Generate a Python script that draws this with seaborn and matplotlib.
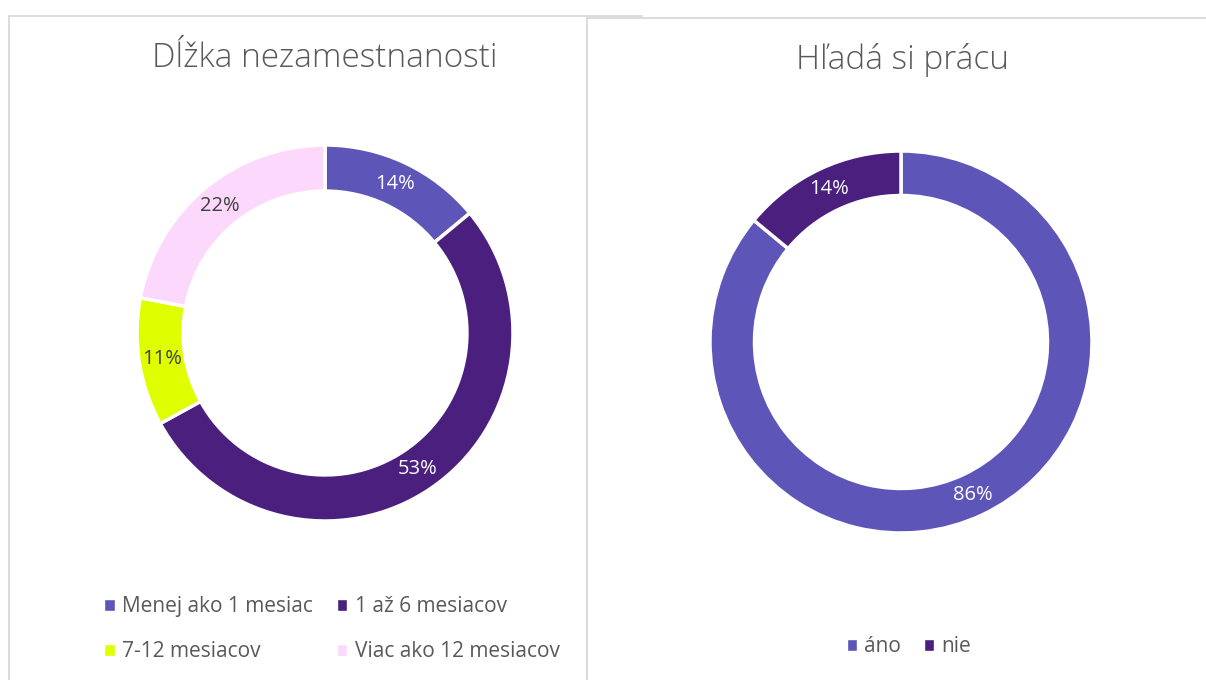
import matplotlib
matplotlib.use("Agg")
import matplotlib.pyplot as plt
import seaborn as sns
import numpy as np
from matplotlib.lines import Line2D
from matplotlib.patches import Patch

sns.set_theme(style="white")
plt.rcParams['font.family'] = ['Open Sans', 'DejaVu Sans']

# Data
dlzka_labels = ["Menej ako 1 mesiac", "1 až 6 mesiacov", "7-12 mesiacov", "Viac ako 12 mesiacov"]
dlzka_values = [14, 53, 11, 22]
dlzka_colors = ["#5E55B8", "#4A1F7E", "#DFFF00", "#FDD8FD"]
dlzka_text = ["white", "white", "#404040", "#404040"]

hlada_labels = ["áno", "nie"]
hlada_values = [86, 14]
hlada_colors = ["#5E55B8", "#4A1F7E"]
hlada_text = ["white", "white"]

W, H = 1206, 680
fig = plt.figure(figsize=(W / 100, H / 100), dpi=100)
fig.patch.set_facecolor("white")

border = "#D9D9D9"
grey = "#595959"


def fline(xs, ys):
    fig.add_artist(Line2D([x / W for x in xs], [1 - y / H for y in ys],
                          transform=fig.transFigure, color=border, lw=1.3, zorder=-1))


# panel frames
fline([9, 642], [16, 16])
fline([9, 9], [16, 690])
fline([587, 1210], [18, 18])
fline([587, 587], [18, 690])


def donut(cx, cy, r, hole, values, colors, text_colors):
    ax = fig.add_axes([(cx - r) / W, (H - cy - r) / H, 2 * r / W, 2 * r / H])
    ax.pie(values, colors=colors, startangle=90, counterclock=False, radius=1,
           wedgeprops=dict(width=1 - hole, edgecolor="white", linewidth=2.5))
    total = sum(values)
    start = 90.0
    rmid = (1 + hole) / 2
    for v, tc in zip(values, text_colors):
        mid = start - v / total * 360 / 2
        start -= v / total * 360
        ang = np.deg2rad(mid)
        ax.text(rmid * np.cos(ang), rmid * np.sin(ang), f"{v}%", ha="center", va="center",
                color=tc, fontsize=14.5)
    ax.set_xlim(-1, 1)
    ax.set_ylim(-1, 1)
    ax.set_aspect("equal")
    ax.axis("off")
    return ax


donut(325, 333, 188, 0.755, dlzka_values, dlzka_colors, dlzka_text)
donut(901, 342, 191, 0.767, hlada_values, hlada_colors, hlada_text)

fig.text(325 / W, 1 - 58 / H, "Dĺžka nezamestnanosti", ha="center", va="center",
         fontsize=24, color=grey, fontweight="light")
fig.text(902 / W, 1 - 60 / H, "Hľadá si prácu", ha="center", va="center",
         fontsize=24, color=grey, fontweight="light")

# legends
order = [0, 2, 1, 3]
h1 = [Patch(facecolor=dlzka_colors[i], label=dlzka_labels[i]) for i in order]
fig.legend(handles=h1, loc="center left", bbox_to_anchor=(94 / W, 1 - 629 / H), ncol=2,
           frameon=False, fontsize=15, labelcolor=grey, handlelength=0.5, handleheight=0.5,
           handletextpad=0.35, columnspacing=1.15, labelspacing=1.15, borderpad=0)
h2 = [Patch(facecolor=c, label=l) for c, l in zip(hlada_colors, hlada_labels)]
fig.legend(handles=h2, loc="center", bbox_to_anchor=(909 / W, 1 - 647 / H), ncol=2,
           frameon=False, fontsize=15, labelcolor=grey, handlelength=0.5, handleheight=0.5,
           handletextpad=0.35, columnspacing=1.1, borderpad=0)

fig.savefig("out.png", dpi=100, facecolor="white")
